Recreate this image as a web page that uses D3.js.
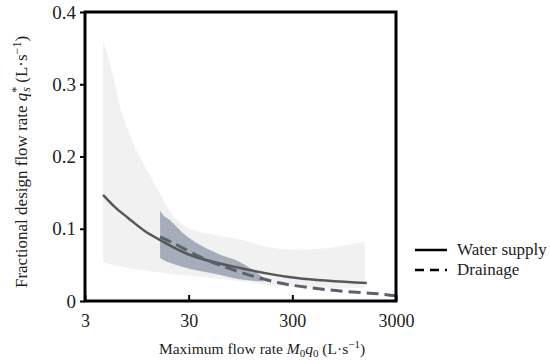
<!DOCTYPE html>
<html>
<head>
    <style>
        body { margin: 0; background: #fff; }
    </style>
    <script src="https://d3js.org/d3.v7.min.js"></script>
</head>
<body>
    <div id="chart"></div>

    <script>
        // Values
        const xTicks = [3, 30, 300, 3000];
        const yTicks = [0, 0.1, 0.2, 0.3, 0.4];

        // Water supply band (light grey) - upper and lower bounds
        const supplyBandX = [4.48, 5.23, 6.53, 8.52, 11.9, 15.2, 21.2, 30.9, 56.1, 100, 182, 355, 807, 1500];
        const supplyBandHi = [0.361, 0.329, 0.269, 0.223, 0.181, 0.153, 0.118, 0.100, 0.091, 0.084, 0.074, 0.071, 0.075, 0.082];
        const supplyBandLo = [0.054, 0.051, 0.048, 0.045, 0.042, 0.040, 0.037, 0.035, 0.031, 0.027, 0.022, 0.019, 0.018, 0.018];

        // Drainage band (dark bluish grey)
        const drainBandX = [15.9, 17.0, 19.7, 26.4, 56.1, 93.7, 156];
        const drainBandHi = [0.125, 0.119, 0.112, 0.094, 0.066, 0.054, 0.033];
        const drainBandLo = [0.060, 0.057, 0.053, 0.047, 0.037, 0.030, 0.027];

        // Fitted curves
        const supplyX = [4.48, 5.84, 7.8, 11.4, 15.9, 30.9, 93.7, 332, 1570];
        const supplyY = [0.147, 0.130, 0.115, 0.0965, 0.0844, 0.0637, 0.0457, 0.0318, 0.0249];
        const drainX = [15.9, 21.2, 45, 93.7, 228, 692, 2100, 3000];
        const drainY = [0.0886, 0.0803, 0.0567, 0.0401, 0.0249, 0.0152, 0.0097, 0.0072];

        const legendNames = ["Water supply", "Drainage"];

        const FONT = "Liberation Serif";
        const width = 550, height = 364;
        const margin = { top: 12, right: 154, bottom: 63, left: 85 };

        const svg = d3.select("#chart").append("svg")
            .attr("width", width)
            .attr("height", height)
            .attr("font-family", FONT);

        const x = d3.scaleLog()
            .domain([3, 3000])
            .range([margin.left, width - margin.right]);

        const y = d3.scaleLinear()
            .domain([0, 0.4])
            .range([height - margin.bottom, margin.top]);

        const zip = (xs, a, b) => xs.map((v, i) => ({ x: v, hi: a[i], lo: b ? b[i] : null }));

        const band = d3.area()
            .x(d => x(d.x))
            .y0(d => y(d.lo))
            .y1(d => y(d.hi))
            .curve(d3.curveMonotoneX);

        const line = d3.line()
            .x(d => x(d.x))
            .y(d => y(d.hi))
            .curve(d3.curveCatmullRom.alpha(0.5));

        // bands
        svg.append("path")
            .datum(zip(supplyBandX, supplyBandHi, supplyBandLo))
            .attr("d", band)
            .attr("fill", "#f1f1f1");

        svg.append("path")
            .datum(zip(drainBandX, drainBandHi, drainBandLo))
            .attr("d", band)
            .attr("fill", "#a5acba");

        // curves
        svg.append("path")
            .datum(zip(supplyX, supplyY))
            .attr("d", line)
            .attr("fill", "none")
            .attr("stroke", "#575757")
            .attr("stroke-width", 2.5);

        svg.append("path")
            .datum(zip(drainX, drainY))
            .attr("d", line)
            .attr("fill", "none")
            .attr("stroke", "#5a606c")
            .attr("stroke-width", 3)
            .attr("stroke-dasharray", "12,6");

        // axes
        svg.append("g")
            .attr("transform", `translate(${margin.left},0)`)
            .call(d3.axisLeft(y)
                .tickValues(yTicks)
                .tickSize(5)
                .tickPadding(4)
                .tickFormat(d => d === 0 ? "0" : d.toFixed(1)))
            .attr("font-family", FONT)
            .attr("font-size", 19);

        svg.append("g")
            .attr("transform", `translate(0,${height - margin.bottom})`)
            .call(d3.axisBottom(x)
                .tickValues(xTicks)
                .tickSize(-6)
                .tickPadding(13)
                .tickFormat(d3.format("d")))
            .attr("font-family", FONT)
            .attr("font-size", 18);

        svg.selectAll(".domain").remove();
        svg.selectAll(".tick line").attr("stroke", "#000").attr("stroke-width", 2);
        svg.selectAll(".tick text").attr("fill", "#222");

        // frame
        svg.append("rect")
            .attr("x", margin.left)
            .attr("y", margin.top)
            .attr("width", width - margin.left - margin.right)
            .attr("height", height - margin.top - margin.bottom)
            .attr("fill", "none")
            .attr("stroke", "#000")
            .attr("stroke-width", 3);

        // axis labels
        const xl = svg.append("text")
            .attr("font-family", FONT)
            .attr("font-size", 15.5)
            .attr("fill", "#222")
            .attr("x", 262)
            .attr("y", 354)
            .attr("text-anchor", "middle");
        xl.append("tspan").text("Maximum flow rate ");
        xl.append("tspan").attr("font-style", "italic").text("M");
        xl.append("tspan").attr("font-size", 11).attr("dy", 3).text("0");
        xl.append("tspan").attr("font-style", "italic").attr("dy", -3).text("q");
        xl.append("tspan").attr("font-size", 11).attr("dy", 3).text("0");
        xl.append("tspan").attr("dy", -3).text(" (L·s");
        xl.append("tspan").attr("font-size", 11).attr("dy", -6).text("−1");
        xl.append("tspan").attr("dy", 6).text(")");

        const yl = svg.append("text")
            .attr("font-family", FONT)
            .attr("font-size", 17)
            .attr("fill", "#222")
            .attr("transform", "translate(27,162) rotate(-90)")
            .attr("text-anchor", "middle");
        yl.append("tspan").text("Fractional design flow rate ");
        yl.append("tspan").attr("font-style", "italic").text("q");
        yl.append("tspan").attr("font-size", 12).attr("dy", -7).text("*");
        yl.append("tspan").attr("font-size", 12).attr("font-style", "italic").attr("dx", -5).attr("dy", 10).text("s");
        yl.append("tspan").attr("dy", -3).text(" (L·s");
        yl.append("tspan").attr("font-size", 12).attr("dy", -6).text("−1");
        yl.append("tspan").attr("dy", 6).text(")");

        // legend
        const legend = svg.append("g").attr("transform", "translate(415,250)");
        legendNames.forEach((name, i) => {
            const g = legend.append("g").attr("transform", `translate(0,${i * 20})`);
            g.append("line")
                .attr("x1", 0).attr("x2", 32)
                .attr("stroke", "#000")
                .attr("stroke-width", 2.5)
                .attr("stroke-dasharray", i === 1 ? "9,6" : null);
            g.append("text")
                .attr("font-family", FONT)
                .attr("font-size", 17)
                .attr("fill", "#222")
                .attr("x", 42)
                .attr("y", 5)
                .text(name);
        });
    </script>
</body>
</html>
